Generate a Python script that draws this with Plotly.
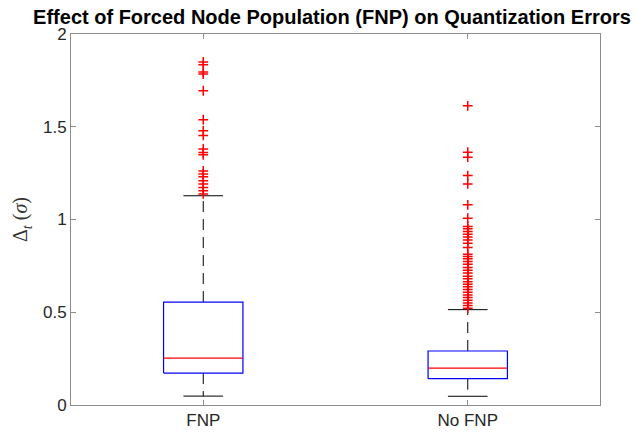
import plotly.graph_objects as go

categories = ["FNP", "No FNP"]
q1 = [0.172, 0.142]
median = [0.253, 0.199]
q3 = [0.555, 0.291]
lower_whisker = [0.048, 0.047]
upper_whisker = [1.128, 0.514]

outliers_fnp = [1.849, 1.834, 1.795, 1.784, 1.694, 1.538, 1.479, 1.453, 1.380,
                1.361, 1.349, 1.262, 1.245, 1.230, 1.209, 1.191, 1.172, 1.155, 1.138]
outliers_nofnp = [1.613, 1.363, 1.336, 1.237, 1.192, 1.079, 1.007, 0.962, 0.950,
                  0.935, 0.921, 0.906, 0.890, 0.872, 0.849, 0.813, 0.800, 0.788,
                  0.773, 0.759, 0.741, 0.727, 0.711, 0.694, 0.680, 0.665, 0.651,
                  0.637, 0.622, 0.608, 0.593, 0.579, 0.565, 0.550, 0.536, 0.522]
outliers = [outliers_fnp, outliers_nofnp]

box_half = 0.15
cap_half = 0.075

fig = go.Figure()
for i, cat in enumerate(categories):
    x = i + 1
    # whiskers (dashed)
    fig.add_trace(go.Scatter(x=[x, x], y=[q3[i], upper_whisker[i]], mode="lines",
                             line=dict(color="black", width=1, dash="11px,7px"),
                             showlegend=False, hoverinfo="skip"))
    fig.add_trace(go.Scatter(x=[x, x], y=[q1[i], lower_whisker[i]], mode="lines",
                             line=dict(color="black", width=1, dash="11px,7px"),
                             showlegend=False, hoverinfo="skip"))
    # caps
    for w in (upper_whisker[i], lower_whisker[i]):
        fig.add_trace(go.Scatter(x=[x - cap_half, x + cap_half], y=[w, w], mode="lines",
                                 line=dict(color="black", width=1),
                                 showlegend=False, hoverinfo="skip"))
    # box
    fig.add_trace(go.Scatter(
        x=[x - box_half, x + box_half, x + box_half, x - box_half, x - box_half],
        y=[q1[i], q1[i], q3[i], q3[i], q1[i]], mode="lines",
        line=dict(color="#0000ff", width=1.2), showlegend=False, hoverinfo="skip"))
    # median
    fig.add_trace(go.Scatter(x=[x - box_half, x + box_half], y=[median[i], median[i]],
                             mode="lines", line=dict(color="#ff0000", width=1.2),
                             showlegend=False, hoverinfo="skip"))
    # outliers
    fig.add_trace(go.Scatter(x=[x] * len(outliers[i]), y=outliers[i], mode="markers",
                             marker=dict(symbol="cross-thin", size=7,
                                         line=dict(color="#ff0000", width=1.5)),
                             showlegend=False, hoverinfo="skip"))

axis_common = dict(showline=True, linecolor="#8c8c8c", linewidth=1, mirror="allticks",
                   ticks="inside", ticklen=5, tickcolor="#8c8c8c", showgrid=False,
                   zeroline=False, automargin=False,
                   tickfont=dict(family="Liberation Sans", size=17, color="#262626"))

fig.update_layout(
    width=636, height=433,
    margin=dict(l=71, r=36, t=34, b=28, autoexpand=False),
    plot_bgcolor="white", paper_bgcolor="white",
    title=dict(text="<b>Effect of Forced Node Population (FNP) on Quantization Errors</b>",
               font=dict(family="Liberation Sans", size=20, color="black"),
               x=332 / 636, xref="container", xanchor="center", y=1 - 17 / 433,
               yref="container", yanchor="middle", automargin=False),
    xaxis=dict(range=[0.5, 2.5], tickvals=[1, 2], ticktext=categories, **axis_common),
    yaxis=dict(range=[0, 2], tickvals=[0, 0.5, 1, 1.5, 2], ticktext=["0", "0.5", "1", "1.5", "2"],
               title=dict(text="Δ<sub><i>t</i></sub> (<i>σ</i>)",
                          font=dict(family="Liberation Serif", size=20, color="#333333"),
                          standoff=9),
               **axis_common),
)

fig.write_html("out.html", config={"displayModeBar": False},
               post_script="document.body.style.margin='0';document.body.style.overflow='hidden';")
